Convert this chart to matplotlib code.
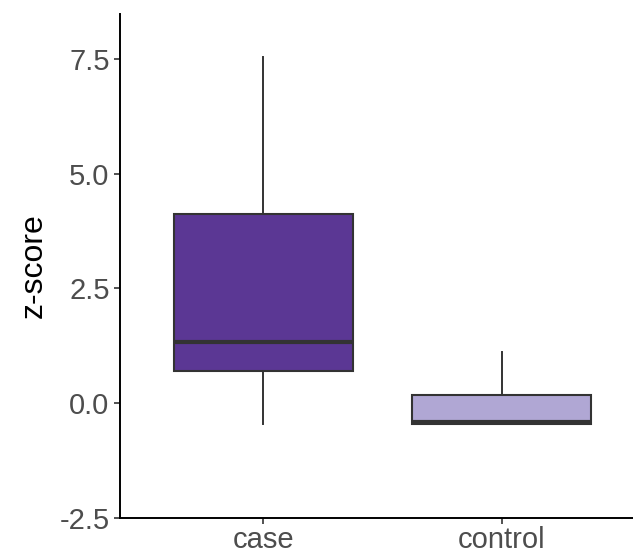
import matplotlib.pyplot as plt

plt.rcParams['font.family'] = ['Liberation Sans', 'DejaVu Sans']

# Box summaries per group
groups = ['case', 'control']
whislo = [-0.46, -0.46]
q1 = [0.70, -0.46]
med = [1.33, -0.41]
q3 = [4.13, 0.17]
whishi = [7.54, 1.11]
fills = ['#5B3794', '#B0A7D4']

yticks = [-2.5, 0.0, 2.5, 5.0, 7.5]

stats = []
for i, g in enumerate(groups):
    stats.append(dict(label=g, whislo=whislo[i], q1=q1[i], med=med[i],
                      q3=q3[i], whishi=whishi[i], fliers=[]))

fig = plt.figure(figsize=(6.33, 5.54), dpi=100)
ax = fig.add_axes([0.1896, 0.065, 0.829, 0.9097])

edge = '#333333'
bp = ax.bxp(stats, positions=[0, 1], widths=0.75, patch_artist=True,
            showcaps=False, showfliers=False,
            boxprops=dict(edgecolor=edge, linewidth=1.5),
            medianprops=dict(color=edge, linewidth=3),
            whiskerprops=dict(color=edge, linewidth=1.4))
for patch, c in zip(bp['boxes'], fills):
    patch.set_facecolor(c)

ax.set_xlim(-0.6, 1.6)
ax.set_ylim(-2.5, 8.48)
ax.set_yticks(yticks)
ax.set_yticklabels([f'{v:.1f}' for v in yticks])
ax.set_ylabel('z-score', fontsize=23, color='black', labelpad=8)

for s in ['top', 'right']:
    ax.spines[s].set_visible(False)
for s in ['left', 'bottom']:
    ax.spines[s].set_linewidth(1.4)
ax.tick_params(axis='both', labelsize=21, colors='#4D4D4D', length=4, width=1.2)
ax.tick_params(axis='both', color='#333333')
ax.tick_params(axis='x', pad=1.5)

fig.savefig('out.png', dpi=100)
